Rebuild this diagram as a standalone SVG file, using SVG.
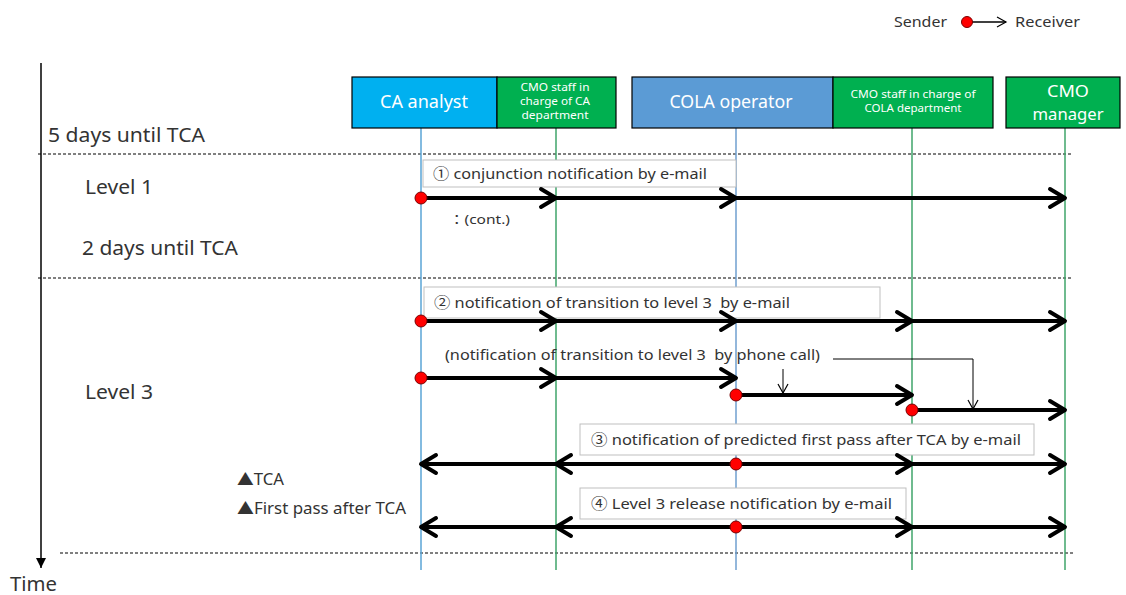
<svg xmlns="http://www.w3.org/2000/svg" width="1126" height="595" viewBox="0 0 1126 595">
<style>
text{font-family:"Noto Sans","Noto Sans CJK JP",sans-serif;fill:#333}
.hd{fill:#fff;text-anchor:middle}
.big{font-size:17.5px}
.sm{font-size:10.5px}
.lbl{font-size:15px}
.side{font-size:19px}
.box{fill:#fff;stroke:#bfbfbf;stroke-width:1}
.msg{stroke:#000;stroke-width:4;fill:none;marker-end:url(#chev)}
.dash{stroke:#000;stroke-width:1;stroke-dasharray:3 2}
.life-b{stroke:#5aa5d6;stroke-width:1.5}
.life-c{stroke:#6f9fcf;stroke-width:1.5}
.life-g{stroke:#3fa56a;stroke-width:1.5}
.thin{stroke:#000;stroke-width:1;fill:none}
.dot{fill:#ff0000;stroke:#7a0000;stroke-width:1}
</style>
<defs>
<marker id="chev" markerUnits="userSpaceOnUse" viewBox="-20 -12 24 24" refX="0" refY="0" markerWidth="24" markerHeight="24" orient="auto">
<path d="M-15,-9 L0,0 L-15,9" fill="none" stroke="#000" stroke-width="4" stroke-linecap="round" stroke-linejoin="round"/>
</marker>
<marker id="chevS" markerUnits="userSpaceOnUse" viewBox="-12 -8 14 16" refX="0" refY="0" markerWidth="14" markerHeight="16" orient="auto">
<path d="M-9,-5 L0,0 L-9,5" fill="none" stroke="#000" stroke-width="1.2"/>
</marker>
<marker id="tri" markerUnits="userSpaceOnUse" viewBox="-10 -6 12 12" refX="0" refY="0" markerWidth="12" markerHeight="12" orient="auto">
<path d="M-10,-5 L0,0 L-10,5 Z" fill="#000"/>
</marker>
</defs>

<!-- legend -->
<g id="legend">
<text x="894" y="27" font-size="15" textLength="53" lengthAdjust="spacingAndGlyphs">Sender</text>
<line x1="967" y1="22" x2="1006" y2="22" stroke="#000" stroke-width="1.5" marker-end="url(#chevS)"/>
<circle cx="967" cy="22" r="5.5" class="dot"/>
<text x="1015" y="27" font-size="15" textLength="65" lengthAdjust="spacingAndGlyphs">Receiver</text>
</g>

<!-- time axis -->
<g id="time-axis">
<line x1="41" y1="63" x2="41" y2="568" stroke="#000" stroke-width="1.5" marker-end="url(#tri)"/>
<text x="10" y="591" class="side" textLength="47" lengthAdjust="spacingAndGlyphs">Time</text>
</g>

<!-- dashed separators -->
<g id="separators">
<line x1="38" y1="154" x2="1073" y2="154" class="dash"/>
<line x1="38" y1="278" x2="1073" y2="278" class="dash"/>
<line x1="60" y1="553" x2="1073" y2="553" class="dash"/>
</g>

<!-- side labels -->
<g id="side-labels">
<text x="48" y="142" class="side" textLength="157" lengthAdjust="spacingAndGlyphs">5 days until TCA</text>
<text x="85" y="194" class="side" textLength="68" lengthAdjust="spacingAndGlyphs">Level 1</text>
<text x="82" y="255" class="side" textLength="156" lengthAdjust="spacingAndGlyphs">2 days until TCA</text>
<text x="85" y="399" class="side" textLength="68" lengthAdjust="spacingAndGlyphs">Level 3</text>
<text x="237" y="485" font-size="16" textLength="47" lengthAdjust="spacingAndGlyphs">▲TCA</text>
<text x="237" y="514" font-size="16" textLength="169" lengthAdjust="spacingAndGlyphs">▲First pass after TCA</text>
</g>

<!-- lifelines -->
<g id="lifelines">
<line x1="421" y1="128" x2="421" y2="570" class="life-b"/>
<line x1="556" y1="128" x2="556" y2="570" class="life-g"/>
<line x1="736" y1="128" x2="736" y2="570" class="life-c"/>
<line x1="912" y1="128" x2="912" y2="570" class="life-g"/>
<line x1="1065" y1="128" x2="1065" y2="570" class="life-g"/>
</g>

<!-- header nodes -->
<g id="ca-analyst">
<rect x="352" y="77" width="145" height="51" fill="#00b0f0" stroke="#000" stroke-width="1.2"/>
<text x="424" y="108" class="hd big" textLength="88" lengthAdjust="spacingAndGlyphs">CA analyst</text>
</g>
<g id="cmo-staff-ca">
<rect x="497" y="77" width="119" height="51" fill="#00b050" stroke="#000" stroke-width="1.2"/>
<text x="555" y="91" class="hd sm" textLength="69" lengthAdjust="spacingAndGlyphs">CMO staff in</text>
<text x="555" y="105" class="hd sm" textLength="70" lengthAdjust="spacingAndGlyphs">charge of CA</text>
<text x="555" y="119" class="hd sm" textLength="67" lengthAdjust="spacingAndGlyphs">department</text>
</g>
<g id="cola-operator">
<rect x="632" y="77" width="201" height="51" fill="#5b9bd5" stroke="#000" stroke-width="1.2"/>
<text x="731" y="108" class="hd big" textLength="123" lengthAdjust="spacingAndGlyphs">COLA operator</text>
</g>
<g id="cmo-staff-cola">
<rect x="833" y="77" width="160" height="51" fill="#00b050" stroke="#000" stroke-width="1.2"/>
<text x="913" y="98" class="hd sm" textLength="125" lengthAdjust="spacingAndGlyphs">CMO staff in charge of</text>
<text x="913" y="112" class="hd sm" textLength="97" lengthAdjust="spacingAndGlyphs">COLA department</text>
</g>
<g id="cmo-manager">
<rect x="1006" y="77" width="114" height="51" fill="#00b050" stroke="#000" stroke-width="1.2"/>
<text x="1068" y="97" class="hd" font-size="16.5" textLength="42" lengthAdjust="spacingAndGlyphs">CMO</text>
<text x="1068" y="120" class="hd" font-size="16.5" textLength="71" lengthAdjust="spacingAndGlyphs">manager</text>
</g>

<!-- message labels -->
<g id="label-1">
<rect x="423" y="160" width="313" height="27" class="box"/>
<text x="433" y="179" class="lbl" textLength="274" lengthAdjust="spacingAndGlyphs">① conjunction notification by e-mail</text>
<text x="449" y="224" font-size="13" textLength="61" lengthAdjust="spacingAndGlyphs">：(cont.)</text>
</g>
<g id="label-2">
<rect x="424" y="287" width="456" height="31" class="box"/>
<text x="434" y="308" class="lbl" xml:space="preserve" textLength="356" lengthAdjust="spacingAndGlyphs">② notification of transition to level 3  by e-mail</text>
</g>
<g id="label-phone">
<text x="445" y="360" class="lbl" xml:space="preserve" textLength="375" lengthAdjust="spacingAndGlyphs">(notification of transition to level 3  by phone call)</text>
</g>
<g id="label-3">
<rect x="580" y="424" width="454" height="31" class="box"/>
<text x="591" y="445" class="lbl" textLength="430" lengthAdjust="spacingAndGlyphs">③ notification of predicted first pass after TCA by e-mail</text>
</g>
<g id="label-4">
<rect x="580" y="488" width="326" height="31" class="box"/>
<text x="591" y="509" class="lbl" textLength="301" lengthAdjust="spacingAndGlyphs">④ Level 3 release notification by e-mail</text>
</g>

<!-- connectors -->
<g id="connectors">
<!-- msg 1 -->
<line x1="421" y1="198" x2="556" y2="198" class="msg"/>
<line x1="556" y1="198" x2="736" y2="198" class="msg"/>
<line x1="736" y1="198" x2="1065" y2="198" class="msg"/>
<!-- msg 2 -->
<line x1="421" y1="321" x2="556" y2="321" class="msg"/>
<line x1="556" y1="321" x2="736" y2="321" class="msg"/>
<line x1="736" y1="321" x2="912" y2="321" class="msg"/>
<line x1="912" y1="321" x2="1065" y2="321" class="msg"/>
<!-- phone -->
<line x1="421" y1="378" x2="556" y2="378" class="msg"/>
<line x1="556" y1="378" x2="736" y2="378" class="msg"/>
<line x1="736" y1="395" x2="912" y2="395" class="msg"/>
<line x1="912" y1="410" x2="1065" y2="410" class="msg"/>
<!-- msg 3 -->
<line x1="736" y1="464" x2="556" y2="464" class="msg"/>
<line x1="556" y1="464" x2="421" y2="464" class="msg"/>
<line x1="736" y1="464" x2="912" y2="464" class="msg"/>
<line x1="912" y1="464" x2="1065" y2="464" class="msg"/>
<!-- msg 4 -->
<line x1="736" y1="527" x2="556" y2="527" class="msg"/>
<line x1="556" y1="527" x2="421" y2="527" class="msg"/>
<line x1="736" y1="527" x2="912" y2="527" class="msg"/>
<line x1="912" y1="527" x2="1065" y2="527" class="msg"/>
<!-- thin pointers -->
<line x1="783" y1="369" x2="783" y2="393" class="thin" marker-end="url(#chevS)"/>
<polyline points="833,359 973,359 973,409" class="thin" marker-end="url(#chevS)"/>
<!-- sender dots -->
<circle cx="421" cy="198" r="6" class="dot"/>
<circle cx="421" cy="321" r="6" class="dot"/>
<circle cx="421" cy="378" r="6" class="dot"/>
<circle cx="736" cy="395" r="6" class="dot"/>
<circle cx="912" cy="410" r="6" class="dot"/>
<circle cx="736" cy="464" r="6" class="dot"/>
<circle cx="736" cy="527" r="6" class="dot"/>
</g>
</svg>
